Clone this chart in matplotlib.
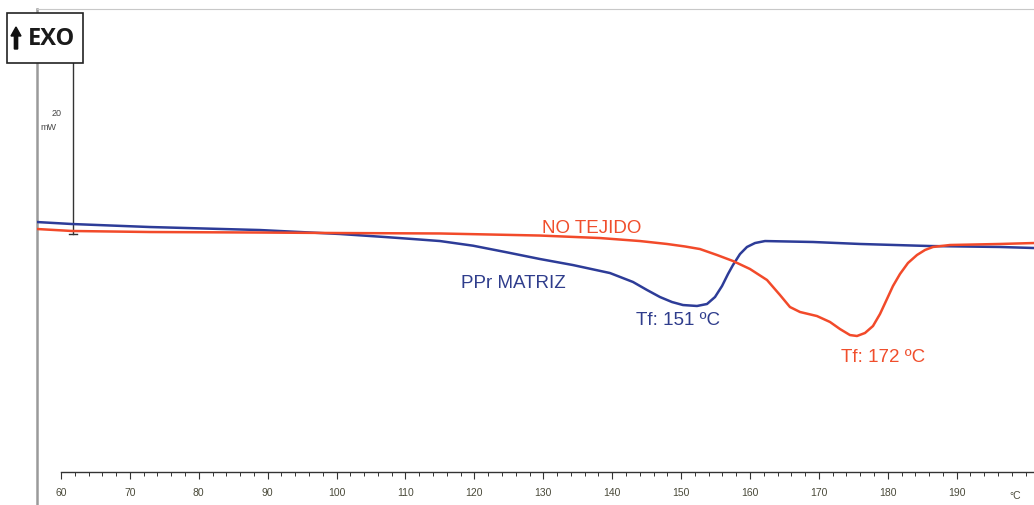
import matplotlib
matplotlib.use("Agg")
import matplotlib.pyplot as plt
from matplotlib.patches import Rectangle, FancyArrow

plt.rcParams['font.family'] = ['Liberation Sans', 'DejaVu Sans']

# DSC curves, temperature (°C) vs heat flow (mW, arbitrary offset)
ppr_temp = [56.52, 61.60, 72.92, 88.88, 100.49, 107.0, 111.0, 115.01, 119.8, 124.7,
            129.52, 134.3, 139.68, 143.02, 145.05, 146.94, 148.68, 150.28, 152.31, 153.76,
            154.92, 155.94, 156.81, 157.53, 158.55, 159.56, 160.73, 162.18, 169.14, 175.96,
            186.12, 196.28, 201.22]
ppr_mw = [0.81, 0.58, 0.23, -0.12, -0.58, -0.93, -1.16, -1.40, -1.94, -2.71,
          -3.49, -4.19, -5.12, -6.16, -7.09, -7.91, -8.49, -8.84, -8.95, -8.72,
          -7.91, -6.63, -5.23, -4.19, -2.91, -2.09, -1.63, -1.40, -1.51, -1.74,
          -1.98, -2.09, -2.21]

nt_temp = [56.52, 61.60, 72.92, 88.88, 100.49, 115.01, 129.52, 138.23, 144.03, 147.95,
           150.56, 152.74, 155.20, 157.53, 160.00, 162.47, 164.35, 165.80, 167.26, 169.72,
           171.61, 173.06, 174.51, 175.53, 176.69, 177.85, 178.87, 179.88, 180.75, 181.77,
           182.93, 184.24, 185.40, 186.56, 189.03, 196.28, 201.22]
nt_mw = [0.00, -0.23, -0.35, -0.41, -0.47, -0.52, -0.76, -1.05, -1.40, -1.74,
         -2.03, -2.33, -3.02, -3.72, -4.65, -5.93, -7.67, -9.07, -9.65, -10.12,
         -10.81, -11.63, -12.33, -12.44, -12.09, -11.28, -9.88, -8.14, -6.63, -5.23,
         -3.95, -3.02, -2.44, -2.09, -1.86, -1.74, -1.63]

xticks = list(range(60, 200, 10))
minor_ticks = list(range(60, 202, 2))

blue = '#2d3c98'
red = '#f24a2a'

fig = plt.figure(figsize=(10.34, 5.06), dpi=100)
ax = fig.add_axes([37 / 1034, 0, 997 / 1034, 496 / 506])
ax.set_xlim(56.52, 201.22)
ax.set_ylim(-32.09, 25.58)

ax.plot(ppr_temp, ppr_mw, color=blue, lw=1.8, zorder=3,
        solid_joinstyle='round', solid_capstyle='round')
ax.plot(nt_temp, nt_mw, color=red, lw=1.8, zorder=4,
        solid_joinstyle='round', solid_capstyle='round')

# curve labels
ax.text(137.0, 0.23, 'NO TEJIDO', color='#f04e2c', fontsize=13.5, ha='center', va='center')
ax.text(125.6, -6.2, 'PPr MATRIZ', color='#2f3d8c', fontsize=13.5, ha='center', va='center')
ax.text(149.5, -10.5, 'Tf: 151 ºC', color='#2f3d8c', fontsize=13.5, ha='center', va='center')
ax.text(179.3, -14.8, 'Tf: 172 ºC', color='#f04e2c', fontsize=13.5, ha='center', va='center')

# frame
ax.spines['right'].set_visible(False)
ax.spines['left'].set_color('#9a9a9a')
ax.spines['left'].set_linewidth(1.8)
ax.spines['top'].set_color('#c8c8c8')
ax.spines['top'].set_linewidth(0.8)
ax.spines['bottom'].set_position(('data', -28.26))
ax.spines['bottom'].set_bounds(60, 201.22)
ax.spines['bottom'].set_color('#333333')
ax.spines['bottom'].set_linewidth(1.0)

ax.set_yticks([])
ax.set_xticks(xticks)
ax.set_xticks(minor_ticks, minor=True)
ax.tick_params(axis='x', which='major', direction='out', length=5, width=0.8,
               colors='#333333', labelsize=7.5, pad=6, labelcolor='#4a4a3a')
ax.tick_params(axis='x', which='minor', direction='out', length=3, width=0.7,
               colors='#333333')
ax.text(198.5, -30.9, '°C', fontsize=7.5, color='#4a4a3a', ha='center', va='center')

# 20 mW scale bar
ax.plot([61.7, 61.7], [-0.58, 19.42], color='#333333', lw=1.0, zorder=2)
ax.plot([61.1, 62.3], [-0.58, -0.58], color='#333333', lw=1.0, zorder=2)
ax.text(59.3, 13.6, '20', fontsize=6.5, color='#444444', ha='center', va='center')
ax.text(58.2, 11.9, 'mW', fontsize=6.5, color='#444444', ha='center', va='center')

# EXO box
fig.add_artist(Rectangle((7 / 1034, 1 - 64 / 506), 76 / 1034, 50 / 506,
                         transform=fig.transFigure, facecolor='white',
                         edgecolor='#222222', lw=1.2))
fig.text(52 / 1034, 1 - 39 / 506, 'EXO', fontsize=17, fontweight='bold',
         family='Open Sans', color='#1a1a1a', ha='center', va='center')
fig.add_artist(FancyArrow(
    16 / 1034, 1 - 50 / 506, 0, 22 / 506, width=1.6 / 506, head_width=10 / 1034,
    head_length=9 / 506, length_includes_head=True, transform=fig.transFigure,
    color='#111111'))

fig.savefig('out.png', dpi=100)
